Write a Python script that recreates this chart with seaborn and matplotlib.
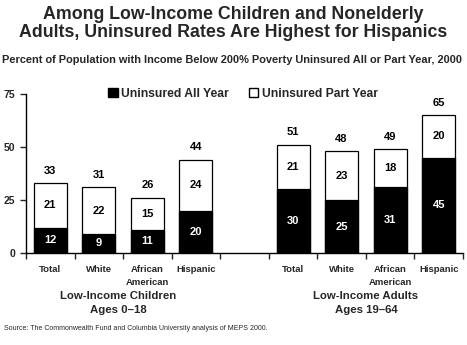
import matplotlib
matplotlib.use("Agg")
import matplotlib.pyplot as plt
from matplotlib.patches import Patch
from matplotlib.transforms import blended_transform_factory
import seaborn as sns
import pandas as pd

# ---- data ----
categories = ["Total", "White", "African\nAmerican", "Hispanic",
              "Total", "White", "African\nAmerican", "Hispanic"]
groups = ["Low-Income Children\nAges 0\u201318", "Low-Income Adults\nAges 19\u201364"]
all_year = [12, 9, 11, 20, 30, 25, 31, 45]
part_year = [21, 22, 15, 24, 21, 23, 18, 20]
totals = [33, 31, 26, 44, 51, 48, 49, 65]
positions = [0, 1, 2, 3, 5, 6, 7, 8]
y_ticks = [0, 25, 50, 75]

sns.set_style("white")
plt.rcParams["font.family"] = ["Liberation Sans", "DejaVu Sans"]

df = pd.DataFrame({"pos": positions, "all": all_year, "part": part_year, "total": totals})

fig = plt.figure(figsize=(4.67, 3.45), dpi=100)
ax = fig.add_axes([26 / 467, 1 - 253 / 345, (463 - 26) / 467, (253 - 94) / 345])

sns.barplot(data=df, x="pos", y="total", native_scale=True, color="white",
            edgecolor="black", linewidth=0.9, width=0.68, ax=ax, saturation=1)
sns.barplot(data=df, x="pos", y="all", native_scale=True, color="black",
            edgecolor="black", linewidth=0.9, width=0.68, ax=ax, saturation=1)

ax.set_xlim(-0.5, 8.5)
ax.set_ylim(0, 75)
ax.set_xlabel("")
ax.set_ylabel("")
for s in ["top", "right"]:
    ax.spines[s].set_visible(False)
for s in ["left", "bottom"]:
    ax.spines[s].set_linewidth(1.0)
    ax.spines[s].set_color("black")

ax.set_yticks(y_ticks)
ax.set_yticklabels([str(v) for v in y_ticks], fontsize=7.5, fontweight="bold")
ax.tick_params(axis="y", direction="out", length=4, width=1, pad=4, left=True)

ax.set_xticks([p - 0.5 for p in range(10)])
ax.set_xticklabels([])
ax.tick_params(axis="x", which="major", direction="out", length=4, width=1, bottom=True)
ax.set_xticks(positions, minor=True)
ax.set_xticklabels(categories, minor=True, fontsize=6.8, fontweight="bold", linespacing=1.5)
ax.tick_params(axis="x", which="minor", length=0, pad=9)

# value labels
for p, a, pt, t in zip(positions, all_year, part_year, totals):
    ax.text(p, a / 2, str(a), ha="center", va="center", color="white",
            fontsize=8, fontweight="bold")
    ax.text(p, a + pt / 2, str(pt), ha="center", va="center", color="black",
            fontsize=8, fontweight="bold")
    ax.text(p, t + 3.5, str(t), ha="center", va="bottom", color="black",
            fontsize=8, fontweight="bold")

# group labels
tr = blended_transform_factory(ax.transData, fig.transFigure)
ax.text(1.4, 1 - 291 / 345, groups[0], transform=tr, ha="center", va="top",
        fontsize=8.2, fontweight="bold", linespacing=1.45)
ax.text(6.5, 1 - 291 / 345, groups[1], transform=tr, ha="center", va="top",
        fontsize=8.2, fontweight="bold", linespacing=1.45)

# legend
handles = [Patch(facecolor="black", edgecolor="black", label="Uninsured All Year"),
           Patch(facecolor="white", edgecolor="black", label="Uninsured Part Year")]
leg = fig.legend(handles=handles, loc="center", bbox_to_anchor=(243 / 467, 1 - 94 / 345),
                 ncol=2, frameon=False, handlelength=0.8, handleheight=0.8,
                 handletextpad=0.3, columnspacing=1.6, prop={"weight": "bold", "size": 8.7})

# titles
fig.text(233 / 467, 1 - 23.5 / 345, "Among Low-Income Children and Nonelderly\nAdults, Uninsured Rates Are Highest for Hispanics",
         ha="center", va="center", fontsize=12.8, fontweight="bold", linespacing=1.1)
fig.text(232 / 467, 1 - 60 / 345, "Percent of Population with Income Below 200% Poverty Uninsured All or Part Year, 2000",
         ha="center", va="center", fontsize=7.9, fontweight="bold")
fig.text(4 / 467, 1 - 328 / 345, "Source: The Commonwealth Fund and Columbia University analysis of MEPS 2000.",
         ha="left", va="center", fontsize=5)

fig.savefig("out.png", dpi=100)
